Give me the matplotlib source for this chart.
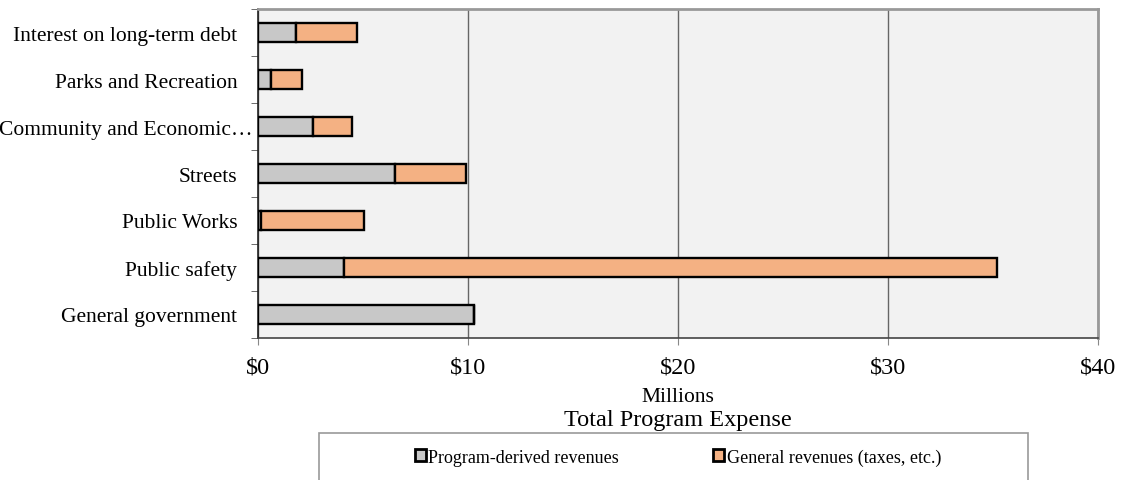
import matplotlib.pyplot as plt
import matplotlib.transforms as mtransforms
import numpy as np
from matplotlib.patches import Rectangle, Patch

plt.rcParams['font.family'] = ['Liberation Serif', 'DejaVu Serif']

# Data (millions of dollars)
categories = ['General government', 'Public safety', 'Public Works', 'Streets',
              'Community and Economic\u2026', 'Parks and Recreation',
              'Interest on long-term debt']
program_rev = [10.3, 4.08, 0.13, 6.52, 2.60, 0.63, 1.80]
general_rev = [0.0, 31.12, 4.93, 3.37, 1.89, 1.45, 2.93]
xticks = [0, 10, 20, 30, 40]
xlabels = ['$0', '$10', '$20', '$30', '$40']

gray = '#c8c8c8'
orange = '#f4b183'

fig = plt.figure(figsize=(11.24, 4.81), dpi=100)
ax = fig.add_axes([258 / 1124, 1 - 339 / 481, 840 / 1124, 329 / 481])
ax.set_facecolor('#f2f2f2')

y = np.arange(len(categories))
h = 0.4
ax.barh(y, program_rev, h, color=gray, edgecolor='black', linewidth=1.7, zorder=3)
ax.barh(y, general_rev, h, left=program_rev, color=orange, edgecolor='black',
        linewidth=1.7, zorder=3)

ax.set_xlim(0, 40)
ax.set_ylim(-0.5, len(categories) - 0.5)
ax.set_xticks(xticks)
ax.set_xticklabels(xlabels, fontsize=17.5)
ax.tick_params(axis='x', length=5, pad=8, color='#888888')
ax.set_yticks(y)
ax.set_yticklabels(categories, fontsize=15.5)
ax.tick_params(axis='y', which='major', length=0, pad=15)
ax.set_yticks(np.arange(-0.5, len(categories), 1), minor=True)
ax.tick_params(axis='y', which='minor', length=5, color='#555555')

# the truncated label sits closer to the axis, like the original
for lbl in ax.get_yticklabels():
    if lbl.get_text().endswith('\u2026'):
        lbl.set_transform(lbl.get_transform() +
                          mtransforms.ScaledTranslation(15 / 100, 0, fig.dpi_scale_trans))

ax.grid(axis='x', color='#666666', linewidth=1.0, zorder=0)
for side in ['top', 'right']:
    ax.spines[side].set_color('#999999')
    ax.spines[side].set_linewidth(2)
ax.spines['left'].set_color('#222222')
ax.spines['left'].set_linewidth(1.2)
ax.spines['bottom'].set_color('#444444')
ax.spines['bottom'].set_linewidth(1.2)

fig.text(678 / 1124, 1 - 398 / 481, 'Millions', ha='center', va='center', fontsize=15.5)
fig.text(678 / 1124, 1 - 421 / 481, 'Total Program Expense', ha='center',
         va='center', fontsize=17.5)

# legend box
fig.patches.append(Rectangle((319 / 1124, -0.05), 709 / 1124, 0.05 + 47 / 481,
                             transform=fig.transFigure, facecolor='white',
                             edgecolor='#999999', linewidth=1.2))
handles = [Patch(facecolor=gray, edgecolor='black', linewidth=2),
           Patch(facecolor=orange, edgecolor='black', linewidth=2)]
fig.legend(handles, ['Program-derived revenues', 'General revenues (taxes, etc.)'],
           loc='center', bbox_to_anchor=(678 / 1124, 1 - 458 / 481), ncol=2,
           frameon=False, fontsize=13, handlelength=0.6, handleheight=0.6,
           handletextpad=0.15, columnspacing=5.2)

fig.savefig('out.png', dpi=100)
